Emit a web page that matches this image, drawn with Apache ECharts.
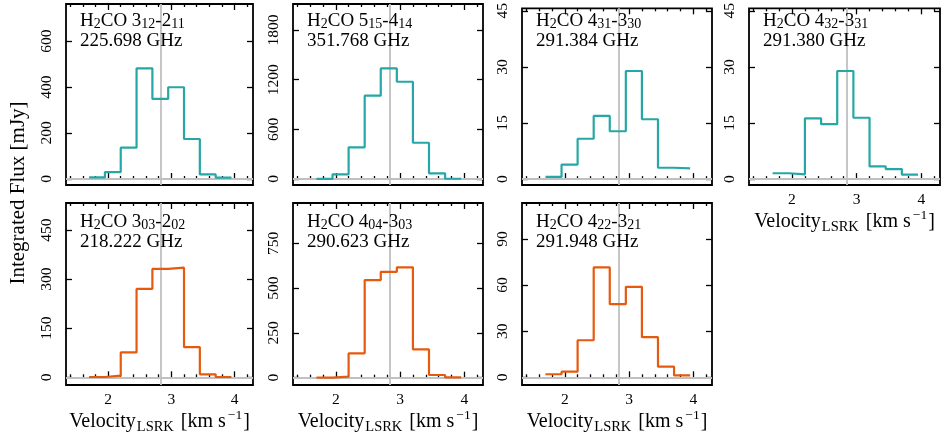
<!DOCTYPE html>
<html><head><meta charset="utf-8">
<script src="https://cdn.jsdelivr.net/npm/echarts@6/dist/echarts.min.js"></script>
<style>html,body{margin:0;padding:0;background:#fff}#c{width:943px;height:437px}</style>
</head><body><div id="c"></div>
<script>
// ---------------- data ----------------
const velocityEdges = [1.70, 1.95, 2.20, 2.45, 2.70, 2.95, 3.20, 3.45, 3.70, 3.95];
const systemicVelocity = 2.84;
const xTickValues = [2, 3, 4];
const xMinorTickValues = [1.4, 1.6, 1.8, 2.2, 2.4, 2.6, 2.8, 3.2, 3.4, 3.6, 3.8, 4.2];

const flux_312_211 = [7, 30, 136, 481, 348, 399, 174, 20, 6];
const flux_515_414 = [2, 57, 383, 1006, 1336, 1175, 438, 69, 3];
const flux_431_330 = [0.6, 3.9, 10.8, 16.9, 12.8, 28.9, 16.0, 3.05, 2.9];
const flux_432_331 = [1.57, 1.3, 16.25, 14.7, 28.9, 16.4, 3.4, 2.7, 1.2];
const flux_303_202 = [1, 5, 76, 270, 331, 335, 92, 9, 1];
const flux_404_303 = [1, 6, 136, 545, 591, 616, 158, 15, 2];
const flux_422_321 = [2, 3.7, 24.1, 71.5, 47.6, 58.9, 26.1, 6.9, 1.2];

const yTicks_312_211 = [0, 200, 400, 600];
const yTicks_515_414 = [0, 600, 1200, 1800];
const yTicks_431_330 = [0, 15, 30, 45];
const yTicks_432_331 = [0, 15, 30, 45];
const yTicks_303_202 = [0, 150, 300, 450];
const yTicks_404_303 = [0, 250, 500, 750];
const yTicks_422_321 = [0, 30, 60, 90];

const yRange_312_211 = [-26.1, 760.9];
const yRange_515_414 = [-72.5, 2114];
const yRange_431_330 = [-1.565, 45.65];
const yRange_432_331 = [-1.565, 45.65];
const yRange_303_202 = [-23.5, 532.5];
const yRange_404_303 = [-40.7, 975];
const yRange_422_321 = [-5.0, 113.4];

// transition quantum numbers: [J_up, Ka Kc up, J_low, Ka Kc low]
const qn_312_211 = ['3', '12', '2', '11'];
const qn_515_414 = ['5', '15', '4', '14'];
const qn_431_330 = ['4', '31', '3', '30'];
const qn_432_331 = ['4', '32', '3', '31'];
const qn_303_202 = ['3', '03', '2', '02'];
const qn_404_303 = ['4', '04', '3', '03'];
const qn_422_321 = ['4', '22', '3', '21'];

const freqLabels = ['225.698 GHz', '351.768 GHz', '291.384 GHz', '291.380 GHz',
                    '218.222 GHz', '290.623 GHz', '291.948 GHz'];

const xRange = [1.335, 4.29];
const yTitle = 'Integrated Flux [mJy]';

// ---------------- layout / styles ----------------
const TEAL = '#25a8a5';
const ORANGE = '#e65a0e';
const FONT = '"Liberation Serif", "Times New Roman", serif';
const GRAY = '#c0c0c0';

const colLeft = [66, 293, 522, 749];
const colWidth = [187, 190, 190, 191];
const rowTop = [4, 203];
const rowHeight = [181, 182];

const panels = [
  {flux: flux_312_211, ticks: yTicks_312_211, yr: yRange_312_211, qn: qn_312_211, color: TEAL, row: 0, col: 0, xl: false},
  {flux: flux_515_414, ticks: yTicks_515_414, yr: yRange_515_414, qn: qn_515_414, color: TEAL, row: 0, col: 1, xl: false},
  {flux: flux_431_330, ticks: yTicks_431_330, yr: yRange_431_330, qn: qn_431_330, color: TEAL, row: 0, col: 2, xl: false},
  {flux: flux_432_331, ticks: yTicks_432_331, yr: yRange_432_331, qn: qn_432_331, color: TEAL, row: 0, col: 3, xl: true},
  {flux: flux_303_202, ticks: yTicks_303_202, yr: yRange_303_202, qn: qn_303_202, color: ORANGE, row: 1, col: 0, xl: true},
  {flux: flux_404_303, ticks: yTicks_404_303, yr: yRange_404_303, qn: qn_404_303, color: ORANGE, row: 1, col: 1, xl: true},
  {flux: flux_422_321, ticks: yTicks_422_321, yr: yRange_422_321, qn: qn_422_321, color: ORANGE, row: 1, col: 2, xl: true}
];

const tickLine = {color: '#000', width: 1.3};
const plain = v => String(v);
const xTitleRich = {
  a: {fontFamily: FONT, fontSize: 20, lineHeight: 26, color: '#000'},
  s: {fontFamily: FONT, fontSize: 14.5, lineHeight: 16, verticalAlign: 'bottom', color: '#000', padding: [0, 7, 0, 1]},
  p: {fontFamily: FONT, fontSize: 13.5, lineHeight: 12, verticalAlign: 'top', color: '#000', padding: [0, 1, 0, 2]}
};
const xTitle = '{a|Velocity}{s|LSRK}{a|[km s}{p|\u22121}{a|]}';

const grids = [], xAxes = [], yAxes = [], series = [], graphics = [];

panels.forEach((p, i) => {
  const left = colLeft[p.col], top = rowTop[p.row];
  const width = colWidth[p.col], height = rowHeight[p.row];
  grids.push({left, top, width, height, show: true, borderColor: '#000', borderWidth: 1.8,
              backgroundColor: 'rgba(0,0,0,0)', containLabel: false});
  const xb = {type: 'value', gridIndex: i, min: xRange[0], max: xRange[1],
              axisLine: {show: false}, splitLine: {show: false}};
  xAxes.push(Object.assign({}, xb, {
    position: 'bottom',
    axisTick: {show: true, inside: true, length: 6, lineStyle: tickLine, customValues: xTickValues},
    axisLabel: {show: p.xl, customValues: xTickValues, formatter: plain, margin: 7, fontFamily: FONT, fontSize: 15.5, color: '#000'},
    name: p.xl ? xTitle : '', nameLocation: 'middle', nameGap: 22,
    nameTextStyle: {fontFamily: FONT, fontSize: 20, color: '#000', rich: xTitleRich}
  }));
  xAxes.push(Object.assign({}, xb, {
    position: 'bottom',
    axisTick: {show: true, inside: true, length: 3, lineStyle: tickLine, customValues: xMinorTickValues},
    axisLabel: {show: false}
  }));
  xAxes.push(Object.assign({}, xb, {
    position: 'top',
    axisTick: {show: true, inside: true, length: 6, lineStyle: tickLine, customValues: xTickValues},
    axisLabel: {show: false}
  }));
  xAxes.push(Object.assign({}, xb, {
    position: 'top',
    axisTick: {show: true, inside: true, length: 3, lineStyle: tickLine, customValues: xMinorTickValues},
    axisLabel: {show: false}
  }));
  const yb = {type: 'value', gridIndex: i, min: p.yr[0], max: p.yr[1],
              axisLine: {show: false}, splitLine: {show: false}};
  yAxes.push(Object.assign({}, yb, {
    position: 'left',
    axisTick: {show: true, inside: true, length: 6, lineStyle: tickLine, customValues: p.ticks},
    axisLabel: {show: true, customValues: p.ticks, formatter: plain, rotate: 90, margin: 11, fontFamily: FONT, fontSize: 15.5, color: '#000'}
  }));
  yAxes.push(Object.assign({}, yb, {
    position: 'right',
    axisTick: {show: true, inside: true, length: 6, lineStyle: tickLine, customValues: p.ticks},
    axisLabel: {show: false}
  }));

  const pts = velocityEdges.map((v, k) => [v, p.flux[Math.min(k, p.flux.length - 1)]]);
  series.push({
    type: 'line', xAxisIndex: 4 * i, yAxisIndex: 2 * i, data: pts, step: 'end',
    symbol: 'none', z: 3, animation: false,
    lineStyle: {color: p.color, width: 2.2}, itemStyle: {color: p.color},
    markLine: {silent: true, symbol: 'none', z: 1, animation: false,
      label: {show: false}, lineStyle: {color: GRAY, width: 1.8, type: 'solid'},
      data: [{xAxis: systemicVelocity}, {yAxis: 0}]}
  });

  const q = p.qn;
  graphics.push({
    type: 'text', x: left + 14, y: top + (p.row === 0 ? 7 : 9), z: 10,
    style: {
      text: '{a|H}{s|2}{a|CO ' + q[0] + '}{s|' + q[1] + '}{a|-' + q[2] + '}{s|' + q[3] + '}\n{a|' + freqLabels[i] + '}',
      fill: '#000', align: 'left', verticalAlign: 'top',
      font: '19px ' + FONT,
      rich: {
        a: {fontFamily: FONT, fontSize: 19, lineHeight: 20, fill: '#000'},
        s: {fontFamily: FONT, fontSize: 14, lineHeight: 10, verticalAlign: 'bottom', fill: '#000'}
      }
    }
  });
});

graphics.push({
  type: 'text', x: 18, y: 193, rotation: Math.PI / 2, z: 10,
  style: {text: yTitle, fill: '#000', align: 'center', verticalAlign: 'middle', font: '21px ' + FONT}
});

const chart = echarts.init(document.getElementById('c'), null, {renderer: 'canvas'});
chart.setOption({
  animation: false,
  backgroundColor: '#fff',
  grid: grids, xAxis: xAxes, yAxis: yAxes, series: series, graphic: graphics
});
</script></body></html>
